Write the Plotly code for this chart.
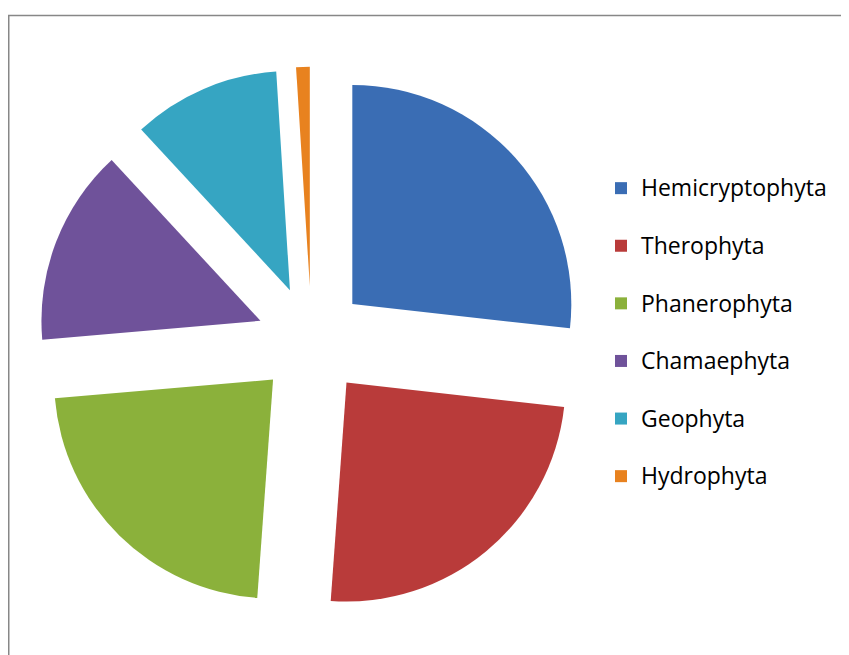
import plotly.graph_objects as go

W, H = 849, 655

categories = ["Hemicryptophyta", "Therophyta", "Phanerophyta", "Chamaephyta", "Geophyta", "Hydrophyta"]
values = [26.8, 24.4, 22.5, 14.5, 10.9, 1.0]
colors = ["#3A6DB4", "#B93B3A", "#8BB13B", "#6F529A", "#36A5C2", "#E8821F"]

# legend entries: label at a larger size plus an empty second line for wider item spacing
legend_labels = [f"<span style='font-size:23px'>{c}</span><br> " for c in categories]

# pie geometry (pixels, figure coordinates)
cx, cy, R, pull = 303.5, 332.5, 219.0, 0.25
half = R * (1 + pull)

fig = go.Figure()
fig.add_trace(go.Pie(
    labels=legend_labels,
    values=values,
    sort=False,
    direction="clockwise",
    rotation=0,
    pull=[pull] * len(values),
    marker=dict(colors=colors, line=dict(width=0)),
    textinfo="none",
    hoverinfo="none",
    domain=dict(x=[(cx - half) / W, (cx + half) / W],
                y=[1 - (cy + half) / H, 1 - (cy - half) / H]),
))

fig.update_layout(
    width=W, height=H,
    margin=dict(l=0, r=0, t=0, b=0),
    paper_bgcolor="white",
    plot_bgcolor="white",
    showlegend=True,
    legend=dict(
        x=593 / W, xanchor="left",
        y=1 - 160 / H, yanchor="top",
        font=dict(family="Open Sans", size=21, color="#000000"),
        valign="top",
        bgcolor="rgba(0,0,0,0)",
    ),
    shapes=[dict(type="rect", xref="paper", yref="paper",
                 x0=0.75 / W, x1=1.05, y0=-0.05, y1=1 - 7.5 / H,
                 line=dict(color="#878787", width=1.5), fillcolor="rgba(0,0,0,0)",
                 layer="below")],
)

fig.write_html("out.html")
